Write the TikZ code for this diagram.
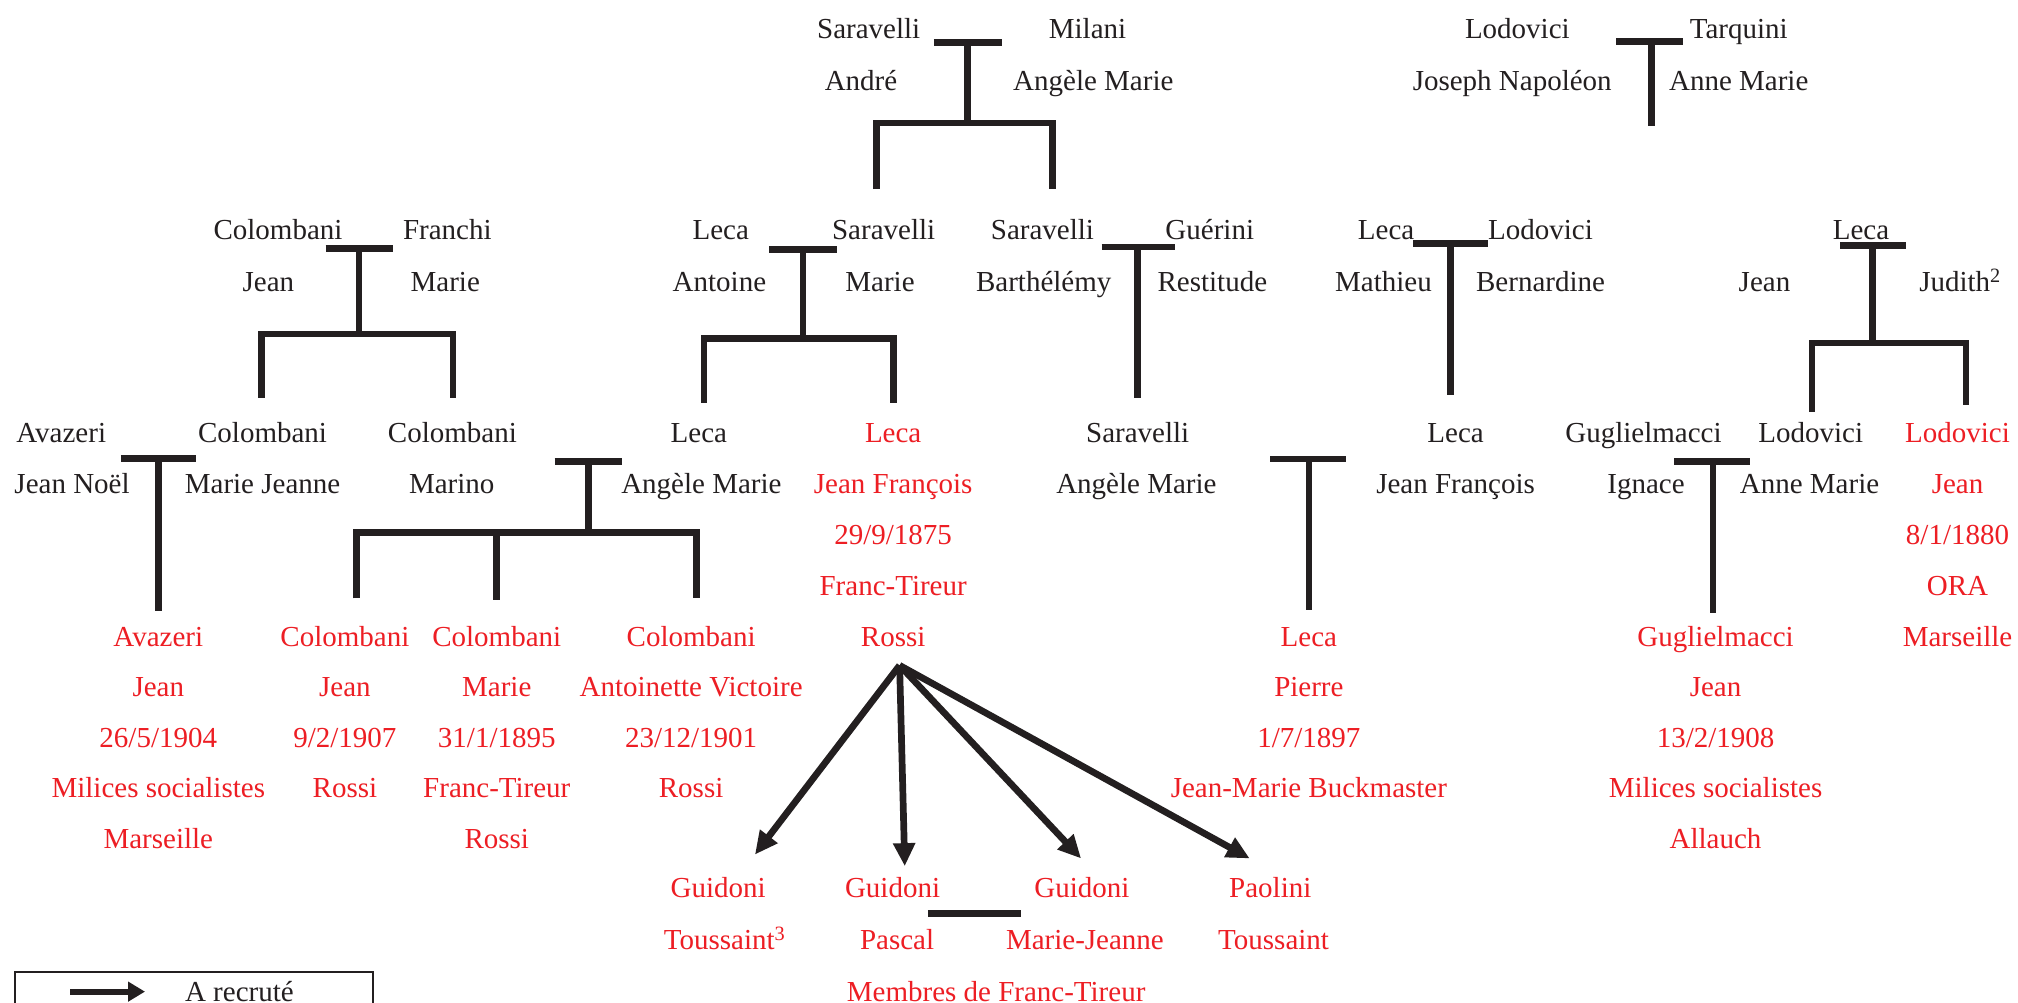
\documentclass[tikz,border=0pt]{standalone}
\usepackage{fontspec}
\setmainfont{Liberation Serif}
\usetikzlibrary{arrows.meta}
\definecolor{ink}{RGB}{35,31,32}
\definecolor{rd}{RGB}{237,30,36}
\begin{document}
\begin{tikzpicture}[x=1.287pt,y=-1.287pt,
 lbl/.style={inner sep=0pt,outer sep=0pt,text height=19.2pt,text depth=0pt,anchor=center,font=\fontsize{29}{32}\selectfont},
 bk/.style={lbl,text=ink},
 rn/.style={lbl,text=rd},
 tree/.style={draw=ink,line width=6.7pt},
 rec/.style={draw=ink,line width=6.7pt,-{Triangle[length=23pt,width=21pt]}},
 legendbox/.style={draw=ink,line width=2pt},
]
\useasboundingbox[fill=white] (0,0) rectangle (1568,779);

% ---------- generation 1 ----------
\node[bk] (sarA) at (675,22.5) {Saravelli};
\node[bk] (milA) at (845,22.5) {Milani};
\node[bk] (andA) at (669,63) {André};
\node[bk] (angA) at (849.5,63) {Angèle Marie};
\node[bk] (lodA) at (1179,22.5) {Lodovici};
\node[bk] (tarA) at (1351,22.5) {Tarquini};
\node[bk] (josA) at (1175,63) {Joseph Napoléon};
\node[bk] (annA) at (1351,63) {Anne Marie};

% ---------- generation 2 ----------
\node[bk] (colB) at (216,179) {Colombani};
\node[bk] (fraB) at (347.6,179) {Franchi};
\node[bk] (jeaB) at (208.6,219) {Jean};
\node[bk] (marB) at (346,219) {Marie};
\node[bk] (lecB) at (560,179) {Leca};
\node[bk] (sarB) at (686.6,179) {Saravelli};
\node[bk] (antB) at (559,219) {Antoine};
\node[bk] (mrB) at (683.8,219) {Marie};
\node[bk] (sar2B) at (810,179) {Saravelli};
\node[bk] (gueB) at (940,179) {Guérini};
\node[bk] (barB) at (811,219) {Barthélémy};
\node[bk] (resB) at (942,219) {Restitude};
\node[bk] (lec2B) at (1077,179) {Leca};
\node[bk] (lodB) at (1197,179) {Lodovici};
\node[bk] (matB) at (1075,219) {Mathieu};
\node[bk] (berB) at (1197,219) {Bernardine};
\node[bk] (lec3B) at (1446,179) {Leca};
\node[bk] (jea3B) at (1371,219) {Jean};
\node[bk] (judB) at (1523,219) {Judith\textsuperscript{2}};

% ---------- generation 3 ----------
\node[bk] (avaC) at (47.6,336.6) {Avazeri};
\node[bk] (jnoC) at (56,376) {Jean Noël};
\node[bk] (colC) at (204,336.6) {Colombani};
\node[bk] (mjeC) at (204,376) {Marie Jeanne};
\node[bk] (col2C) at (351.5,336.6) {Colombani};
\node[bk] (marC) at (351,376) {Marino};
\node[bk] (lecC) at (543,336.6) {Leca};
\node[bk] (angC) at (545,376) {Angèle Marie};
\node[rn] (jf1) at (694,336.6) {Leca};
\node[rn] (jf2) at (694,376) {Jean François};
\node[rn] (jf3) at (694,415.5) {29/9/1875};
\node[rn] (jf4) at (694,455) {Franc-Tireur};
\node[rn] (jf5) at (694,494.5) {Rossi};
\node[bk] (sarC) at (884,336.6) {Saravelli};
\node[bk] (ang2C) at (883,376) {Angèle Marie};
\node[bk] (lec2C) at (1131,336.6) {Leca};
\node[bk] (jfrC) at (1131,376) {Jean François};
\node[bk] (gugC) at (1277,336.6) {Guglielmacci};
\node[bk] (ignC) at (1279,376) {Ignace};
\node[bk] (lodC) at (1407,336.6) {Lodovici};
\node[bk] (annC) at (1406,376) {Anne Marie};
\node[rn] (lj1) at (1521,336.6) {Lodovici};
\node[rn] (lj2) at (1521,376) {Jean};
\node[rn] (lj3) at (1521,415.5) {8/1/1880};
\node[rn] (lj4) at (1521,455) {ORA};
\node[rn] (lj5) at (1521,494.5) {Marseille};

% ---------- generation 4 ----------
\node[rn] (av1) at (123,494.5) {Avazeri};
\node[rn] (av2) at (123,534) {Jean};
\node[rn] (av3) at (123,573) {26/5/1904};
\node[rn] (av4) at (123,612.5) {Milices socialistes};
\node[rn] (av5) at (123,652) {Marseille};
\node[rn] (cj1) at (268,494.5) {Colombani};
\node[rn] (cj2) at (268,534) {Jean};
\node[rn] (cj3) at (268,573) {9/2/1907};
\node[rn] (cj4) at (268,612.5) {Rossi};
\node[rn] (cm1) at (386,494.5) {Colombani};
\node[rn] (cm2) at (386,534) {Marie};
\node[rn] (cm3) at (386,573) {31/1/1895};
\node[rn] (cm4) at (386,612.5) {Franc-Tireur};
\node[rn] (cm5) at (386,652) {Rossi};
\node[rn] (ca1) at (537,494.5) {Colombani};
\node[rn] (ca2) at (537,534) {Antoinette Victoire};
\node[rn] (ca3) at (537,573) {23/12/1901};
\node[rn] (ca4) at (537,612.5) {Rossi};
\node[rn] (lp1) at (1017,494.5) {Leca};
\node[rn] (lp2) at (1017,534) {Pierre};
\node[rn] (lp3) at (1017,573) {1/7/1897};
\node[rn] (lp4) at (1017,612.5) {Jean-Marie Buckmaster};
\node[rn] (gj1) at (1333,494.5) {Guglielmacci};
\node[rn] (gj2) at (1333,534) {Jean};
\node[rn] (gj3) at (1333,573) {13/2/1908};
\node[rn] (gj4) at (1333,612.5) {Milices socialistes};
\node[rn] (gj5) at (1333,652) {Allauch};

% ---------- recruits ----------
\node[rn] (gt1) at (558,690) {Guidoni};
\node[rn] (gt2) at (563,730.5) {Toussaint\textsuperscript{3}};
\node[rn] (gp1) at (693.5,690) {Guidoni};
\node[rn] (gp2) at (697,730.5) {Pascal};
\node[rn] (gm1) at (840.6,690) {Guidoni};
\node[rn] (gm2) at (843,730.5) {Marie-Jeanne};
\node[rn] (pt1) at (987,690) {Paolini};
\node[rn] (pt2) at (989.6,730.5) {Toussaint};
\node[rn] (mft) at (774,770.5) {Membres de Franc-Tireur};

% ---------- family lines ----------
\draw[tree] (725.7,33) -- (778.6,33) (752,33) -- (752,95.6)
  (681,147) -- (681,95.6) -- (818,95.6) -- (818,147);
\draw[tree] (1256,32) -- (1308,32) (1283,32) -- (1283,98);

\draw[tree] (253,193) -- (305,193) (279,193) -- (279,259.5)
  (203,309) -- (203,259.5) -- (352,259.5) -- (352,309);
\draw[tree] (597.6,193.6) -- (650,193.6) (624,193.6) -- (624,263)
  (547,313) -- (547,263) -- (694,263) -- (694,313);
\draw[tree] (856,192) -- (913,192) (884,192) -- (884,309);
\draw[tree] (1098,189) -- (1156,189) (1127,189) -- (1127,307);
\draw[tree] (1430,190.5) -- (1481,190.5) (1455,190.5) -- (1455,266.5)
  (1408,320) -- (1408,266.5) -- (1527.6,266.5) -- (1527.6,315);

\draw[tree] (94,356) -- (152,356) (123,356) -- (123,475);
\draw[tree] (431,358.7) -- (483,358.7) (457,358.7) -- (457,414)
  (277,465) -- (277,414) -- (541,414) -- (541,465) (386,414) -- (386,466);
\draw[tree] (987,356.7) -- (1046,356.7) (1017,356.7) -- (1017,474);
\draw[tree] (1301,358.7) -- (1360,358.7) (1331,358.7) -- (1331,476.6);

\draw[tree] (721,710) -- (793,710);

% ---------- recruitment arrows ----------
\coordinate (src) at (699,517);
\coordinate (e1) at (586.6,664);
\coordinate (e2) at (703,673);
\coordinate (e3) at (840,667);
\coordinate (e4) at (971,667);
\draw[rec] (src) -- (e1);
\draw[rec] (src) -- (e2);
\draw[rec] (src) -- (e3);
\draw[rec] (src) -- (e4);

% ---------- legend ----------
\draw[legendbox] (11.7,782) -- (11.7,755) -- (290,755) -- (290,782);
\coordinate (la) at (54.4,770.5);
\coordinate (lb) at (112.7,770.5);
\draw[draw=ink,line width=6pt,-{Triangle[length=17pt,width=19pt]}] (la) -- (lb);
\node[bk] (leg) at (186,770.5) {A recruté};
\end{tikzpicture}
\end{document}
